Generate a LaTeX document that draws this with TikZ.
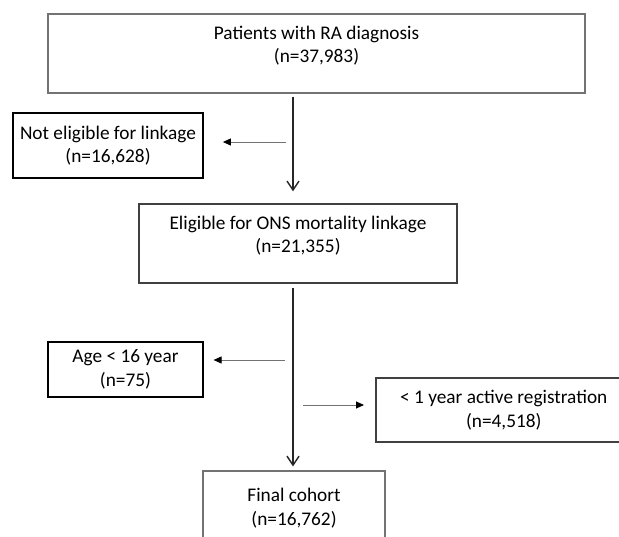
\documentclass[tikz,border=0pt]{standalone}
\usepackage{fontspec}
\setmainfont{Carlito}
\usetikzlibrary{arrows.meta}
\tikzset{box/.style={draw, align=center, inner sep=2pt, font=\fontsize{19.3}{23.5}\selectfont},
	flow/.style={draw=black!85, line width=1.4pt, -{Straight Barb[length=9pt,width=12pt]}},
	excl/.style={draw=black!55, line width=0.9pt, -{Triangle[length=8pt,width=7pt,color=black]}}}
\begin{document}
\begin{tikzpicture}[x=1pt, y=-1pt]
	\useasboundingbox (0,0) rectangle (619,537);
	\coordinate (spine) at (293,0);
	\node[box, draw=black!55, line width=1.3pt, minimum width=537, minimum height=79] (top) at (316.5,53.5) {Patients with RA diagnosis\\(n=37,983)\\[-5pt]\mbox{}};
	\node[box, line width=1.8pt, minimum width=190, minimum height=65] (nel) at (108,145.5) {Not eligible for linkage\\(n=16,628)};
	\node[box, draw=black!75, line width=1.3pt, minimum width=318, minimum height=79] (elig) at (298,243.5) {Eligible for ONS mortality linkage\\(n=21,355)\\[-5pt]\mbox{}};
	\node[box, line width=1.2pt, minimum width=155, minimum height=55] (age) at (125.5,369.5) {Age < 16 year\\(n=75)};
	\node[box, draw=black!75, line width=1.5pt, minimum width=256, minimum height=64, anchor=west] (reg) at (375,410) {< 1 year active registration\\(n=4,518)};
	\node[box, draw=black!55, line width=1.2pt, minimum width=182, minimum height=90] (fin) at (294,516) {Final cohort\\(n=16,762)\\[-5pt]\mbox{}};
	% fleches principales
	\draw[flow, shorten <=3pt, shorten >=12pt] (top.south -| spine) -- (elig.north -| spine);
	\draw[flow, shorten <=4pt, shorten >=4pt] (elig.south -| spine) -- (fin.north -| spine);
	% exclusions
	\coordinate (e1) at (286,142);
	\coordinate (e2) at (285,360);
	\coordinate (e3) at (303,405);
	\draw[excl, shorten >=19pt] (e1) -- (e1 -| nel.east);
	\draw[excl, shorten >=10pt] (e2) -- (e2 -| age.east);
	\draw[excl, shorten >=11pt] (e3) -- (e3 -| reg.west);
\end{tikzpicture}
\end{document}
